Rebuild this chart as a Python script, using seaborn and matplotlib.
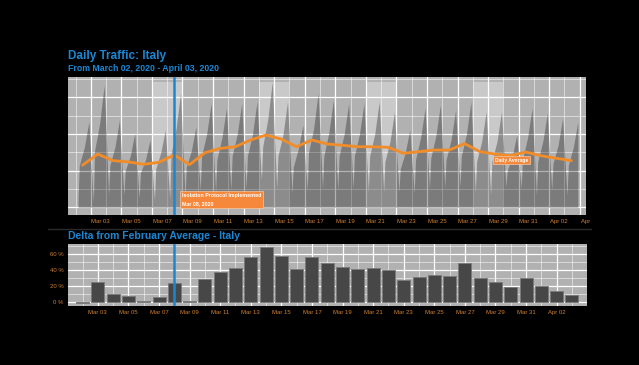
import numpy as np
import pandas as pd
import matplotlib
matplotlib.use('Agg')
import matplotlib.pyplot as plt
import matplotlib.dates as mdates
import matplotlib.transforms as mtransforms
from matplotlib.lines import Line2D
import seaborn as sns

# daily series (one value per day, Mar 02 - Apr 03)
days = pd.date_range('2020-03-02', '2020-04-03', freq='D')
daily_avg = [2.30, 2.91, 2.55, 2.48, 2.35, 2.46, 2.86, 2.33, 2.98, 3.22, 3.31,
             3.68, 3.95, 3.73, 3.31, 3.68, 3.46, 3.39, 3.31, 3.31, 3.28, 2.95,
             3.04, 3.13, 3.13, 3.48, 3.04, 2.91, 2.82, 3.02, 2.82, 2.68, 2.55]
delta_pct = [-1.0, 25.8, 10.0, 7.9, 1.6, 6.6, 23.7, 1.2, 28.7, 38.3, 42.5,
             57.0, 68.7, 57.5, 41.2, 56.6, 49.1, 44.5, 41.2, 42.5, 40.4, 27.5,
             31.2, 34.1, 33.3, 48.7, 30.0, 25.4, 18.7, 30.0, 20.8, 14.1, 9.1]

# hourly traffic, read per local day: trough / morning / evening / peak
trough = [0.50, 0.31, 0.67, 0.67, 0.49, 0.40, 0.49, 0.58, 0.95, 0.85, 0.95,
          1.04, 1.49, 1.04, 0.77, 0.95, 1.04, 0.95, 1.04, 0.85, 0.85, 0.85,
          0.77, 1.04, 1.13, 1.13, 0.85, 0.67, 1.13, 1.04, 0.67, 0.95, 0.67]
morning = [2.3, 3.1, 2.3, 2.0, 1.9, 2.1, 2.9, 2.2, 2.8, 2.6, 2.8,
           2.8, 3.3, 2.8, 2.2, 3.0, 2.8, 2.8, 2.8, 2.8, 2.5, 2.1,
           2.6, 2.7, 2.6, 2.8, 2.5, 2.5, 2.0, 2.6, 2.5, 2.4, 2.3]
evening = [3.3, 4.6, 3.3, 2.8, 2.6, 3.0, 4.3, 3.1, 4.0, 3.8, 4.0,
           4.0, 4.8, 4.0, 3.2, 4.3, 4.1, 4.0, 4.0, 4.0, 3.6, 3.0,
           3.8, 3.9, 3.7, 4.0, 3.6, 3.6, 2.8, 3.8, 3.6, 3.4, 3.3]
peak = [4.68, 6.68, 4.77, 4.04, 3.68, 4.22, 6.23, 4.40, 5.68, 5.41, 5.68,
        5.77, 6.86, 5.77, 4.50, 6.23, 5.86, 5.68, 5.68, 5.77, 5.22, 4.22,
        5.41, 5.59, 5.32, 5.77, 5.22, 5.22, 3.95, 5.41, 5.14, 4.86, 4.68]
profile_hours = [4, 6, 14, 21]
local_start = pd.Timestamp('2020-03-01 13:00')

weekend_days = ['2020-03-06', '2020-03-13', '2020-03-20', '2020-03-27']
isolation_date = pd.Timestamp('2020-03-08')

orange = '#f28c28'
blue = '#1b87d4'
tick_color = '#d08030'

# build hourly frame
rows = []
for i in range(len(peak)):
    base = local_start + pd.Timedelta(days=i)
    for h, v in zip(profile_hours, [trough[i], morning[i], evening[i], peak[i]]):
        rows.append((base + pd.Timedelta(hours=h), v))
hourly = pd.DataFrame(rows, columns=['time', 'traffic'])
hourly['x'] = mdates.date2num(hourly['time'])

daily = pd.DataFrame({'x': mdates.date2num(days), 'avg': daily_avg, 'delta': delta_pct})

sns.set_theme(style='darkgrid')
plt.rcParams['font.family'] = ['Liberation Sans', 'DejaVu Sans']

fig = plt.figure(figsize=(6.39, 3.65), dpi=100, facecolor='black')
ax1 = fig.add_axes([68 / 639, 1 - 215 / 365, 518 / 639, 138 / 365])
ax2 = fig.add_axes([68 / 639, 1 - 306 / 365, 518.5 / 639, 62 / 365])

xlim = (daily['x'].iloc[0] - 0.95, daily['x'].iloc[-1] + 0.95)
offset = pd.Timedelta(hours=13)

# --- top panel: daily traffic ---
ax1.set_facecolor('#b1b1b1')
for d in weekend_days:
    s = mdates.date2num(pd.Timestamp(d) + offset)
    ax1.fill_between([s, s + 2], 0, max(peak), color='#c9c9c9', lw=0, zorder=0.3)
ax1.fill_between(hourly['x'], 0, hourly['traffic'], color='black', alpha=0.3, lw=0, zorder=1)
sns.lineplot(data=daily, x='x', y='avg', ax=ax1, color=orange, lw=2, zorder=3)
ax1.axvline(mdates.date2num(isolation_date), color=blue, lw=1.8, zorder=4)

label_days = pd.date_range('2020-03-03', '2020-04-04', freq='2D')
major = mdates.date2num(label_days - pd.Timedelta(hours=11))
minor = mdates.date2num(label_days - pd.Timedelta(hours=35))
ax1.set_xticks(major, [d.strftime('%b %d') for d in label_days])
ax1.set_xticks(minor, minor=True)
ax1.set_yticks([0, 2, 4, 6])
ax1.set_yticks([1, 3, 5, 7], minor=True)
ax1.set_yticklabels([])
ax1.set_xlim(xlim)
ax1.set_ylim(-0.42, 7.12)
ax1.set_xlabel('')
ax1.set_ylabel('')

ax1.text(mdates.date2num(isolation_date) + 0.5, 0.08,
         'Isolation Protocol Implemented\nMar 08, 2020',
         fontsize=3.8, color='white', weight='bold', ha='left', va='bottom',
         linespacing=1.6, zorder=5,
         bbox=dict(boxstyle='square,pad=0.4', fc='#f5883a', ec='#f6c8a0', lw=0.5))
ax1.text(mdates.date2num(pd.Timestamp('2020-03-30 02:00')), 2.58, 'Daily Average',
         fontsize=3.6, color='white', weight='bold', ha='center', va='center', zorder=5,
         bbox=dict(boxstyle='square,pad=0.35', fc='#f5883a', ec='#f6c8a0', lw=0.5))

# --- bottom panel: delta bars ---
ax2.set_facecolor('#b1b1b1')
sns.barplot(data=daily, x='x', y='delta', native_scale=True, ax=ax2, color='#474747',
            saturation=1, edgecolor='#7c7c7c', linewidth=0.7, width=0.85, zorder=2)
ax2.axvline(mdates.date2num(isolation_date), color=blue, lw=1.8, zorder=4)
bottom_labels = pd.date_range('2020-03-03', '2020-04-02', freq='2D')
ax2.set_xticks(mdates.date2num(bottom_labels), [d.strftime('%b %d') for d in bottom_labels])
ax2.set_xticks(mdates.date2num(pd.date_range('2020-03-02', '2020-04-03', freq='2D')), minor=True)
ax2.set_yticks([0, 20, 40, 60], ['0 %', '20 %', '40 %', '60 %'])
ax2.set_yticks([10, 30, 50, 70], minor=True)
ax2.set_xlim(xlim)
ax2.set_ylim(-4.5, 72.9)
ax2.set_xlabel('')
ax2.set_ylabel('')

for ax in (ax1, ax2):
    ax.set_axisbelow(True)
    ax.grid(which='major', color='white', lw=0.9)
    ax.grid(which='minor', color='white', lw=0.45, alpha=0.8)
    for sp in ax.spines.values():
        sp.set_visible(False)
    ax.tick_params(which='both', length=0, labelsize=4.3, labelcolor=tick_color, pad=3)

# top labels sit a little right of the day gridlines; last one is cut at the edge
shift = mtransforms.ScaledTranslation(0.1, 0, fig.dpi_scale_trans)
clip = mtransforms.Bbox([[0, 0], [591, 365]])
for lab in ax1.get_xticklabels():
    lab.set_transform(lab.get_transform() + shift)
    lab.set_clip_on(True)
    lab.set_clip_box(clip)

fig.text(68 / 639, 1 - 59 / 365, 'Daily Traffic: Italy', color=blue, fontsize=8.5,
         weight='bold', va='baseline')
fig.text(68 / 639, 1 - 71 / 365, 'From March 02, 2020 - April 03, 2020', color=blue,
         fontsize=6.3, weight='bold', va='baseline')
fig.text(68 / 639, 1 - 239 / 365, 'Delta from February Average - Italy', color=blue,
         fontsize=7.5, weight='bold', va='baseline')
fig.add_artist(Line2D([48 / 639, 591 / 639], [1 - 228.5 / 365] * 2, color='#2a2a2a', lw=1))

fig.savefig('out.png', dpi=100, facecolor='black')
